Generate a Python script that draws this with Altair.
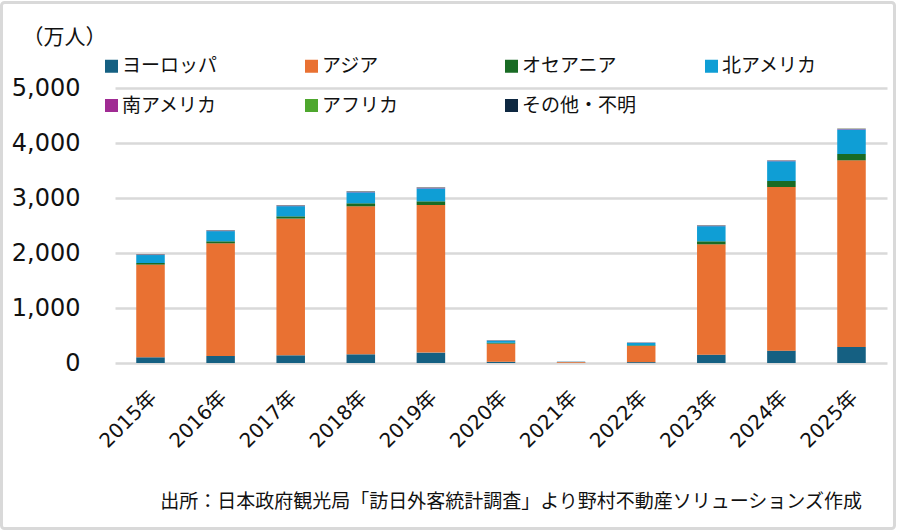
import altair as alt
import pandas as pd

# Visitor arrivals to Japan by region (unit: 10,000 people)
years = ["2015年", "2016年", "2017年", "2018年", "2019年", "2020年",
         "2021年", "2022年", "2023年", "2024年", "2025年"]
regions = ["ヨーロッパ", "アジア", "オセアニア", "北アメリカ",
           "南アメリカ", "アフリカ", "その他・不明"]
colors = ["#156082", "#E97132", "#196B24", "#0F9ED5",
          "#A02B93", "#4EA72E", "#0E2841"]

europe = [104, 127, 140, 158, 189, 22, 4, 16, 152, 225, 291]
asia = [1685, 2049, 2485, 2691, 2684, 330, 14, 293, 2006, 2975, 3394]
oceania = [29, 37, 42, 55, 67, 15, 1, 12, 55, 109, 115]
north_america = [145, 185, 185, 200, 235, 38, 4, 45, 275, 360, 447]
south_america = [6, 8, 9, 10, 12, 3, 1, 3, 8, 10, 12]
africa = [2, 3, 3, 4, 4, 1, 0.5, 1, 3, 3, 5]
other = [5, 5, 5, 5, 4, 4, 1, 3, 5, 3, 0]

y_ticks = [0, 1000, 2000, 3000, 4000, 5000]
unit_label = "（万人）"
source_note = "出所：日本政府観光局「訪日外客統計調査」より野村不動産ソリューションズ作成"

series = [europe, asia, oceania, north_america, south_america, africa, other]
rows = []
for idx, (region, values) in enumerate(zip(regions, series)):
    for year, v in zip(years, values):
        rows.append({"年": year, "地域": region, "人数": v, "順": idx})
df = pd.DataFrame(rows)

JP_FONT = "Noto Sans CJK JP"
NUM_FONT = "DejaVu Sans, Noto Sans CJK JP"
GRID = "#D9D9D9"
INK = "#111111"

bars = alt.Chart(df).mark_bar().encode(
    x=alt.X(
        "年:N",
        sort=years,
        scale=alt.Scale(paddingInner=0.593, paddingOuter=0.303),
        axis=alt.Axis(
            title=None,
            labelAngle=-45,
            labelFontSize=20,
            labelFont=NUM_FONT,
            labelColor=INK,
            labelPadding=24,
            labelOffset=-4,
            domain=False,
            ticks=False,
            grid=False,
        ),
    ),
    y=alt.Y(
        "人数:Q",
        stack="zero",
        scale=alt.Scale(domain=[0, 5000], nice=False),
        axis=alt.Axis(
            values=y_ticks,
            format=",.0f",
            title=unit_label,
            titleAngle=0,
            titleX=-93,
            titleY=-51,
            titleAlign="left",
            titleBaseline="middle",
            titleFont=JP_FONT,
            titleFontSize=21,
            titleFontWeight="normal",
            titleColor=INK,
            labelFont=NUM_FONT,
            labelFontSize=24,
            labelColor=INK,
            labelPadding=35,
            domain=False,
            ticks=False,
            grid=True,
            gridColor=GRID,
            gridWidth=2.5,
        ),
    ),
    color=alt.Color(
        "地域:N",
        sort=regions,
        scale=alt.Scale(domain=regions, range=colors),
        legend=alt.Legend(
            title=None,
            orient="none",
            legendX=-13,
            legendY=-31.5,
            direction="horizontal",
            columns=4,
            gridAlign="all",
            columnPadding=65,
            rowPadding=19.5,
            padding=0,
            symbolType="square",
            symbolSize=169,
            symbolStrokeWidth=0,
            symbolOpacity=1,
            labelOffset=1,
            labelFont=JP_FONT,
            labelFontSize=19,
            labelColor=INK,
            labelLimit=300,
        ),
    ),
    order=alt.Order("順:Q", sort="ascending"),
)

# Light grey frame around the whole figure
frame = alt.Chart(pd.DataFrame({"f": [0]})).mark_rect(
    fillOpacity=0, stroke=GRID, strokeWidth=3, cornerRadius=3
).encode(
    x=alt.value(-113.5), x2=alt.value(779.5),
    y=alt.value(-85.5), y2=alt.value(440.5),
)

footer = alt.Chart(pd.DataFrame({"t": [source_note]})).mark_text(
    align="right", baseline="middle", font=JP_FONT, fontSize=19, color=INK
).encode(text="t:N", x=alt.value(747), y=alt.value(414))

chart = alt.layer(frame, bars, footer).properties(
    width=772,
    height=275,
    padding={"left": 115, "top": 88, "right": 13, "bottom": 168},
    autosize=alt.AutoSizeParams(type="none"),
    background="white",
).configure_view(stroke="transparent")

chart.save("out.html", embed_options={"renderer": "svg", "actions": False})
